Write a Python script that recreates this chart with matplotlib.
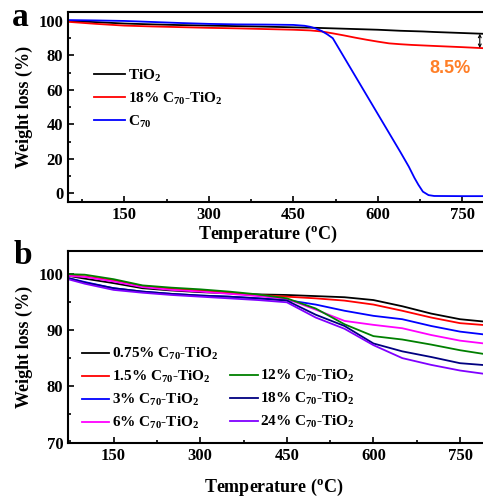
import matplotlib
matplotlib.use("Agg")
import matplotlib.pyplot as plt
from matplotlib.lines import Line2D

plt.rcParams['font.family'] = 'Liberation Serif'
plt.rcParams['font.weight'] = 'bold'
plt.rcParams['mathtext.fontset'] = 'custom'
plt.rcParams['mathtext.rm'] = 'Liberation Serif:bold'
plt.rcParams['mathtext.it'] = 'Liberation Serif:italic:bold'
plt.rcParams['mathtext.bf'] = 'Liberation Serif:bold'

# ---- panel a data ----
T_a = [50, 100, 150, 200, 250, 300, 350, 400, 450, 480, 500, 520, 540, 560,
       580, 600, 620, 640, 660, 680, 700, 750, 800]
tio2 = [100, 99.3, 98.5, 98, 97.6, 97.3, 97.0, 96.7, 96.3, 96.1, 95.9, 95.7,
        95.5, 95.3, 95.1, 94.9, 94.6, 94.3, 94.1, 93.9, 93.6, 93.0, 92.4]
c70_tio2 = [99.5, 98.3, 97.3, 96.8, 96.4, 96.0, 95.7, 95.3, 94.9, 94.5, 93.9,
            92.8, 91.6, 90.3, 89.1, 88.0, 87.0, 86.5, 86.1, 85.8, 85.5, 84.8, 84.0]
T_c = [50, 100, 150, 200, 250, 300, 350, 400, 450, 470, 480, 490, 500, 510,
       520, 540, 560, 580, 600, 620, 640, 655, 665, 672, 680, 690, 700, 750, 800]
c70 = [100.5, 100.3, 100, 99.4, 98.8, 98.3, 98.0, 97.9, 97.7, 97.2, 96.6, 95.6,
       94.2, 92.3, 90.0, 79.0, 68.0, 57.0, 46.0, 35.0, 24.0, 15.5, 9.0, 5.0,
       1.0, -1.0, -1.5, -1.6, -1.6]

# ---- panel b data ----
T_b = [71, 100, 150, 200, 250, 300, 350, 400, 450, 500, 550, 600, 650, 700, 750, 800]
b_labels = ['0.75%', '1.5%', '3%', '6%', '12%', '18%', '24%']
b_colors = ['black', '#ff0000', '#0000ff', '#ff00ff', '#008000', '#000080', '#8000ff']
b_values = [
    [99.6, 99.1, 98.3, 97.4, 97.0, 96.7, 96.5, 96.3, 96.2, 96.0, 95.8, 95.3, 94.2, 92.9, 91.9, 91.4],
    [99.7, 99.5, 98.8, 97.8, 97.3, 97.0, 96.6, 96.2, 95.9, 95.6, 95.2, 94.5, 93.4, 92.2, 91.2, 90.8],
    [99.2, 98.5, 97.4, 96.8, 96.4, 96.1, 95.9, 95.6, 95.3, 94.5, 93.4, 92.5, 91.9, 90.7, 89.7, 89.1],
    [99.6, 99.4, 98.6, 97.6, 97.1, 96.8, 96.4, 96.0, 95.5, 93.6, 91.6, 90.9, 90.3, 89.1, 88.1, 87.5],
    [99.9, 99.8, 99.0, 97.9, 97.5, 97.2, 96.8, 96.3, 95.6, 93.8, 91.0, 88.9, 88.3, 87.4, 86.4, 85.6],
    [99.2, 98.4, 97.4, 96.8, 96.4, 96.1, 95.9, 95.6, 95.2, 92.7, 90.7, 87.6, 86.2, 85.2, 84.1, 83.7],
    [99.0, 98.2, 97.1, 96.6, 96.2, 95.9, 95.6, 95.3, 94.9, 92.2, 90.2, 87.3, 85.0, 83.8, 82.8, 82.1],
]

fig = plt.figure(figsize=(4.83, 5.01), dpi=100)
ax1 = fig.add_axes([0.1408, 0.5968, 0.8747, 0.3786])
ax2 = fig.add_axes([0.1408, 0.1164, 0.8714, 0.3826])


def style(ax):
    for s in ax.spines.values():
        s.set_linewidth(1.5)
    ax.tick_params(which='both', direction='in', labelsize=12, width=1.2)
    ax.tick_params(which='major', length=4)
    ax.tick_params(which='minor', length=2.5)
    for lab in ax.get_xticklabels() + ax.get_yticklabels():
        lab.set_fontweight('bold')


# panel a
ax1.plot(T_a, tio2, color='black', lw=1.3, label='TiO$_\\mathrm{2}$')
ax1.plot(T_a, c70_tio2, color='#ff0000', lw=1.3, label='18% C$_\\mathrm{70}$-TiO$_\\mathrm{2}$')
ax1.plot(T_c, c70, color='#0000ff', lw=1.3, label='C$_\\mathrm{70}$')
ax1.set_xlim(50, 800)
ax1.set_ylim(-5, 105)
ax1.set_xticks([150, 300, 450, 600, 750])
ax1.set_xticks(range(75, 800, 75), minor=True)
ax1.set_yticks(range(0, 101, 20))
ax1.set_yticks(range(10, 101, 20), minor=True)
style(ax1)
ax1.set_xlabel('Temperature ($^\\mathrm{o}$C)', fontsize=13, fontweight='bold', labelpad=2)
ax1.xaxis.set_label_coords(0.473, -0.115)
ax1.set_ylabel('Weight loss (%)', fontsize=13, fontweight='bold')
ax1.legend(loc='upper left', bbox_to_anchor=(0.03, 0.78), frameon=False,
           prop={'size': 11, 'weight': 'bold'}, handlelength=2.0,
           handletextpad=0.2, labelspacing=0.45)
ax1.annotate('', xy=(781, 84.3), xytext=(781, 92.6),
             arrowprops=dict(arrowstyle='<->', color='black', lw=0.8,
                             mutation_scale=5, shrinkA=0, shrinkB=0))
ax1.text(728, 72.5, '8.5%', color='#ff7f27', fontsize=13, fontweight='bold',
         family='Liberation Sans', ha='center', va='center')
fig.text(0.025, 0.965, 'a', fontsize=24, fontweight='bold', va='center')

# panel b
handles = []
for lab, col, vals in zip(b_labels, b_colors, b_values):
    h, = ax2.plot(T_b, vals, color=col, lw=1.3,
                  label=lab + ' C$_{70}$-TiO$_2$')
    handles.append(h)
ax2.set_xlim(71, 800)
ax2.set_ylim(70, 104)
ax2.set_xticks([150, 300, 450, 600, 750])
ax2.set_xticks(range(75, 800, 75), minor=True)
ax2.set_yticks([70, 80, 90, 100])
ax2.set_yticks(range(75, 104, 10), minor=True)
style(ax2)
ax2.set_xlabel('Temperature ($^\\mathrm{o}$C)', fontsize=13, fontweight='bold')
ax2.xaxis.set_label_coords(0.49, -0.18)
ax2.set_ylabel('Weight loss (%)', fontsize=13, fontweight='bold')
blank = Line2D([], [], color='none')
leg_h = handles[:4] + [blank] + handles[4:]
leg_l = [h.get_label() for h in handles[:4]] + [''] + [h.get_label() for h in handles[4:]]
ax2.legend(leg_h, leg_l, loc='upper left', bbox_to_anchor=(0.0, 0.575), ncol=2,
           frameon=False, prop={'size': 11, 'weight': 'bold'}, handlelength=1.8,
           handletextpad=0.15, labelspacing=0.45, columnspacing=0.8)
fig.text(0.028, 0.49, 'b', fontsize=24, fontweight='bold', va='center')

fig.savefig('out.png', dpi=100)
